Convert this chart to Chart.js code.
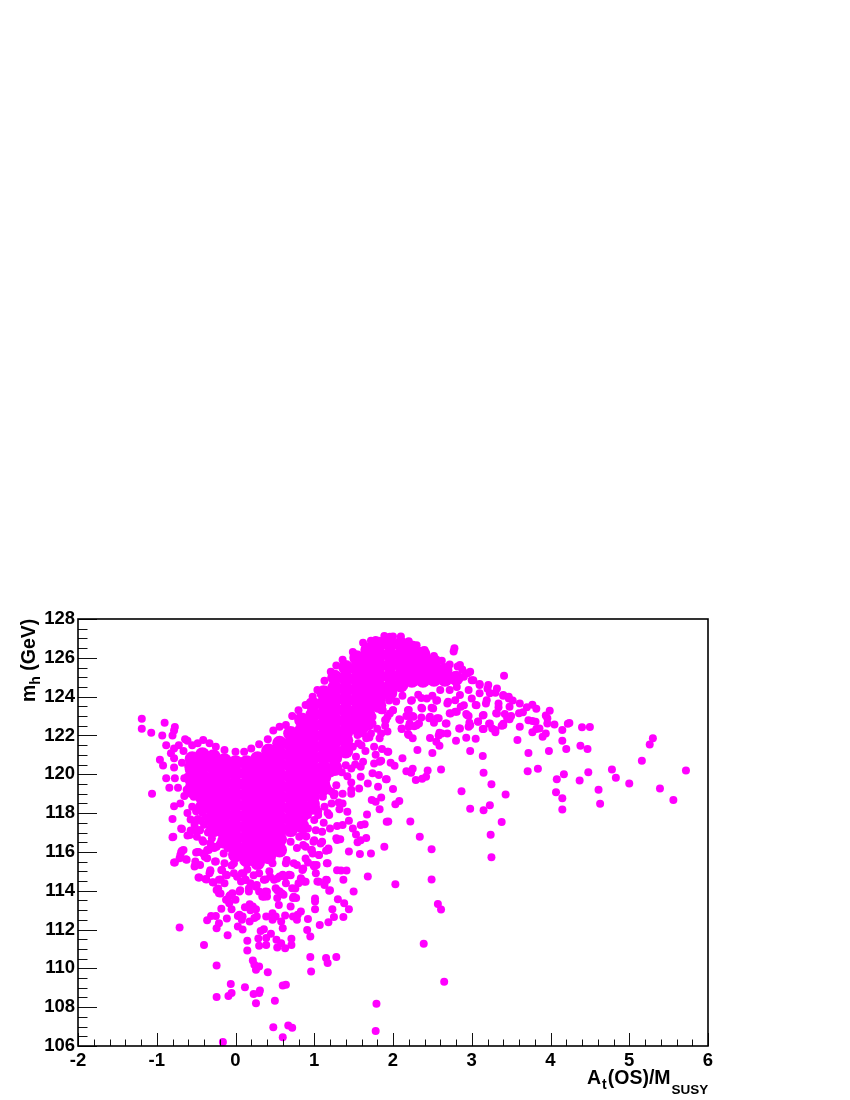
<!DOCTYPE html>
<html>
<head>
<meta charset="utf-8">
<script src="https://cdn.jsdelivr.net/npm/chart.js@4"></script>
<style>
html, body { margin: 0; padding: 0; background: #fff; }
canvas { display: block; }
</style>
</head>
<body>
<canvas id="plot" width="850" height="1100"></canvas>
<script>
const xTitleParts = [["A", 0], ["t", 1], ["(OS)/M", 0], ["SUSY", 2]];
const yTitleParts = [["m", 0], ["h", 1], [" (GeV)", 0]];

// points, [At/Msusy, mh]
const leftPoints = [
[-1.19,122.86],[-1.19,122.35],[-.90,122.66],[-1.07,122.14],[-.77,122.43],[-.78,122.25],[-.93,122],[-.80,122],[-.88,121.5],
[-.96,120.75],[-.92,120.45],[-.88,119.8],[-.77,119.8],[-.84,119.3],[-1.06,119],[-.73,119.3],[-.78,118.35],[-.70,118.5],
[-.80,117.7],[-.69,117.2],[-.80,116.75],[-.61,116.85],[-.57,117.1],[-.47,117.1],[-.64,121.8],[-.61,121.73],[-.72,121.5],
[-.78,121.33],[-.82,121.08],[-.78,120.82],[-.78,120.35],[-.41,121.76],[-.48,121.6],[-.55,121.5],[-.33,121.6],[-.25,121.42],
[-.14,121.25],[0,121.16],[.11,121.16],[.2,121.33],[.3,121.55],[.41,121.8],[.48,122.25],[.56,122.45],[.64,122.54],[.72,123],
[.8,123.3],[.89,123.57],[.98,124],[1.04,124.34],[1.13,124.82],[1.21,125.28],[1.28,125.6],[1.36,125.9],[1.49,126.3],[1.62,126.78],
[1.72,126.88],[1.89,127.12],[1.78,126.92],[-.61,119.87],[-.65,119.8],[-.59,119.36],[-.65,118.88],[-.55,118.33],[-.61,118],
[-.57,117.67],[-.46,117.12],[-.38,117.8],[-.42,116.6],[-.48,116],[-.68,116.06],[-.36,116.1],[-.27,116.2],[-.25,117.3],
[-.33,118.15],[-.42,118.67],[-.53,118.84],[-.68,120.6],[-.66,121.2],[-.6,120.4],[-.62,119.2],[-.5,118.1],[-.52,117.4],[-.44,117.6],
[-.4,117.4],[-.35,117],[-.3,116.7],[-.2,116.4],[-.1,116.2],[-.48,117.7],[-.2,117],[-.3,116.3],[-.12,116.7],[-.05,116.4],[-.42,118],[-.34,117.6]
];

const rightOfBlob = [
[1.93,121.16],[1.83,120.65],[1.76,120.56],[1.82,119.96],[1.74,120.05],[1.91,119.74],[1.81,119.36],[1.73,118.67],[1.85,118.8],
[1.78,118.58],[1.83,118.2],[1.67,117.93],[1.57,119.27],[1.47,119.58],[1.47,119.2],[1.47,119],[1.36,119],[1.31,118.55],[1.36,118.5],
[1.32,118.2],[1.42,118.07],[1.44,117.6],[1.64,117.43],[1.59,117.38],[1.49,117.2],[1.53,116.9],[1.66,116.72],[1.59,116.6],[1.55,116.5],
[1.29,117.33],[1.36,117.38],[1.28,116.7],[1.33,116.65],[1.44,116.02],[1.58,115.89],[1.72,115.92],[1.89,116.26],[1.92,117.55],[1.18,116.18],
[1.15,116.06],[1.06,115.84],[.98,115.92],[.96,116.1],[1.08,116.43],[1.1,117.04],[1.19,117.9],[1.13,118.33],[1,117.64],[1.02,117.12],
[.92,117.2],[.81,116.78],[.89,116.27],[.7,116.52],[1.4,120.47],[1.47,120.3],[1.59,119.87],[1.68,119.53],[1.59,120.39],[1.62,120.65],
[1.53,120.9],[1.78,121],[1.76,121.42],[1.66,121.85],[1.83,121.85],[1.85,123.3],[1.93,122.97],[1.74,122.62],[1.64,122.36],[1.44,122.1],
[1.49,122.45],[1.55,122.02],[1.74,122.97],[1.64,122.8],[1.4,121.6],[1.38,121.25],[1.49,121.42],[1.3,120.4],[1.21,120.05],[1.15,119.53],
[1.28,119.44],[1.11,119.27],[1.17,118],[1.02,118.5],[1.11,118.84],[1.25,118.9],[1.22,119.1],[1.05,118.1],[.92,117.9],[.86,116.9],[.78,116.2],
[1.91,122.8],[1.87,123.3],[1.93,122.2],[1.85,122.1],[1.95,123.8],[1.8,123.6],[1.7,123.4],[1.6,122.9],[1.56,121.6],[1.7,121.9],[1.86,121.3],
[1.05,117.9],[1.12,117.5],[1.2,117.2],[1,118.2],[.95,118.4],[.85,117.5],[.9,116.8],[1,116.6],[1.22,118.5],[1.26,119],[1.18,119.2],
[1.35,120.1],[1.42,119.9],[1.52,120.5],[1.65,121.2],[1.6,121.5],[1.72,122.1],[1.9,122.5],[1.8,122.35],[1.62,122.1]
];

const lowerPoints = [
[-.78,115.45],[-.63,115.62],[-.71,115.67],[-.69,116],[-.51,115.5],[-.52,115.25],[-.45,115.33],[-.5,115.97],[-.47,114.68],[-.38,114.6],
[-.33,114.9],[-.36,115.67],[-.25,115.5],[-.29,114.44],[-.21,114.56],[-.14,114.39],[-.12,114.82],[-.18,115.07],[-.14,115.42],[-.24,114.04],
[-.21,113.87],[-.12,113.53],[-.08,113.7],[-.04,113.87],[-.08,113.36],[-.05,113.05],[-.18,113.07],[0,113.53],[.05,113.96],[.07,114.47],
[.08,114.9],[.13,114.56],[.19,114.39],[.26,114.2],[.17,113.96],[.3,113.96],[.38,113.96],[.34,113.7],[.4,113.7],[.36,114.56],[.43,115],
[.49,114.56],[.56,114.73],[.6,114.82],[.68,114.82],[.64,114.39],[.72,114.13],[.8,114.39],[.87,114.47],[.83,114.64],[.51,114.13],[.56,113.96],
[.61,113.79],[.53,113.62],[.55,113.27],[.73,113.62],[.77,113.62],[.7,113.19],[.83,112.93],[.79,112.76],[.73,112.67],[.78,112.5],[.92,112.54],
[.63,112.72],[.58,112.42],[.6,112.07],[.47,112.84],[.51,112.67],[.39,112.67],[.47,112.5],[.27,112.67],[.26,113.05],[.19,113],[.22,113.19],
[.18,113.3],[.12,113.15],[.05,112.76],[.09,112.67],[.03,112.7],[.08,112.5],[.18,112.42],[.24,112.6],[-.11,112.57],[-.36,112.48],[-.31,112.7],
[-.25,112.7],[-.21,112.33],[-.24,112.07],[-.71,112.1],[.03,112.16],[.09,112],[-.1,111.71],[-.4,111.21],[.32,111.93],[.36,112.02],[.45,111.78],
[.39,111.56],[.29,111.54],[.15,111.42],[.52,111.47],[.58,111.3],[.53,111.08],[.63,111.03],[.71,111.52],[.71,111.21],[.39,111.21],[.3,111.16],
[.15,110.92],[.91,111.98],[.95,111.64],[1.07,112.24],[1.18,112.38],[1.25,112.64],[1.37,112.64],[1.44,113.05],[1.23,113.05],[1.38,113.36],
[1.3,113.56],[1.01,113.05],[1.01,113.44],[1.5,113.96],[1.19,114],[1.13,114.3],[1.04,114.47],[1.15,114.56],[1.37,114.56],[1.34,115.04],
[1.41,115.04],[1.68,114.73],[1.16,115.42],[1.03,115.33],[1.02,114.9],[1,115.25],[.92,115.45],[.85,115.07],[.78,115.33],[.64,115.42],
[.47,115.42],[.3,115.42],[-.02,114.9],[-.05,115.3],[.15,115.1],[.3,114.9],[.95,110.58],[1.15,110.53],[1.17,110.27],[1.28,110.58],[.96,109.84],
[.22,110.4],[.24,110.18],[.3,110.1],[.26,109.93],[.41,109.8],[-.24,110.15],[-.06,109.2],[.12,109.03],[-.05,108.73],[-.09,108.58],[-.24,108.52],
[.31,108.86],[.3,108.73],[.23,108.68],[.26,108.2],[.5,108.33],[.6,109.12],[.64,109.16],[.48,106.97],[.67,107.06],[.72,106.94],[.6,106.45],
[-.16,106.2],[1.79,108.18],[1.78,106.77],[2.03,114.34],[2.49,114.58],[2.57,113.32],[2.61,113.03],[2.39,111.27],[2.65,109.31],
[-.68,117.18],[-.79,116.78],[-.58,116.87],[-.53,117.12],[-.45,117.12],[-.41,116.52],[-.47,116],[-.66,116.1],[-.70,115.84],[-.77,115.46],
[-.62,115.6],[-.51,115.32],[-.39,115.75],[-.34,116.1],[-.26,115.5],[-.32,115.06],[-.17,115.06],[-.46,114.68],[-.37,114.58],[-.32,115],
[-.28,114.43],[-.19,114.58],[-.11,114.8],[-.22,114.12],[-.19,113.86],[-.07,113.77],[.06,114.03],[.17,114.12],[.12,114.55],[.1,114.89],
[.27,114.29],[.38,114.58],[.4,113.95],[.53,114.03],[.59,113.86],[.53,114.63],[.63,114.72],[.7,114.8],[.76,114.12],[.84,114.55],[.89,114.46],
[.86,115.15],[.99,115.32],[1.06,114.46],[1.16,114.55],[1.2,114.03],[1.01,113.6],[.74,113.69],[.36,113.69],[1.17,115.41],[1.29,115.06],
[.97,116.1],[1.06,115.84],[1.18,116.1],[1.29,116.61],[1.1,116.52],[.99,116.52],[.86,116.35],[.89,115.66],[.74,115.41],[.65,115.58],
[.44,114.72],[.23,114.8],[.02,114.72],[-.02,115.41],[-.15,115.92],[-.24,116.27],[-.32,116.44],[-.41,115.92],[-.49,116.78]
];

const rightPoints = [
[5.72,120.2],[5.30,121.85],[5.26,121.54],[5.16,120.7],[5.39,119.27],[5.56,118.67],[5,119.53],[4.83,119.82],[4.78,120.25],[4.61,119.2],
[4.63,118.48],[4.48,120.1],[4.37,119.68],[4.17,120],[4.08,119.74],[4.07,119.07],[4.15,118.77],[4.15,118.18],[4.50,122.43],[4.40,122.42],
[4.24,122.64],[4.22,122.6],[4.15,122.28],[4.15,121.73],[4.20,121.3],[4.38,121.47],[4.47,121.3],[3.98,121.2],[3.72,121.1],[3.71,120.16],
[3.84,120.28],[3.58,121.76],[3.61,122.45],[3.77,122.17],[3.82,122.33],[3.86,122.36],[3.94,122.1],[3.90,121.93],[3.96,122.62],[4.05,122.57],
[3.99,123.27],[3.94,123.03],[3.96,122.88],[3.72,122.78],[3.77,122.74],[3.81,122.7],[3.14,120.94],[2.98,121.2],[3.15,120.08],[3.25,119.48],
[3.43,118.96],[3.23,118.4],[3.15,118.14],[2.98,118.22],[2.87,119.12],[3.38,117.54],[3.24,116.88],[3.25,115.73],[2.49,116.14],[2.34,116.78],
[2.22,117.57],[1.94,117.57],[2.61,120.25],[2.44,120.2],[2.42,119.87],[2.37,119.77],[2.29,119.7],[2.25,120.28],[2.23,120.08],[2.17,120.15],
[2.12,120.82],[2.02,120.44],[1.97,120.6],[1.94,121.16],[1.85,120.7],[2.31,121.25],[2.5,121.1],[2.59,121.47],[2.55,121.68],[2.47,121.87],
[2.25,121.85],[2.19,122.07],[2.11,122.33],[2.80,121.73],[2.69,122.1],[2.59,122.14],[2.58,122],[2.93,121.88],[3.05,121.83],[2.84,122.36],
[3.14,122.33],[3.08,122.72],[2.96,122.45],[2.97,122.66],[3.14,123.03],[3.26,122.36],[3.30,122.17],[3.22,122.6],[3.38,122.5],[3.40,122.6],
[3.48,122.83],[3.5,123],[3.42,123.1],[3.31,123.14],[3.34,123.45],[3.6,123.14],[3.65,123.2],[3.7,123.45],[3.77,123.58],[3.82,123.38],[3.61,123.64],
[3.41,125.08],[2.78,126.49],[2.77,126.32],[2,119.24],[1.92,119.75],[2.08,118.62],[2.03,118.45],[2.67,122.62],[2.52,122.66],[2.56,122.88],
[2.46,122.88],[2.36,122.93],[2.33,122.62],[2.27,122.48],[2.21,122.62],[2.08,122.83],[2.25,123],[2.17,123],[2.72,123.14],[2.79,123.22],[2.93,123.1],
[2.96,123],[2,123.3],[2.19,123.3],[2.36,123.43],[2.49,123.43],[2.23,123.79],[2.36,123.93],[2.55,123.79],[2.69,123.65],[2.86,123.48],[3.05,123.57],
[3.18,123.65],[3.48,123.48],[3.52,123.8],[3.4,124.05],[3.47,124],[3.3,124.2],[3.2,124.4],[3.1,124.65],[3.0,124.85],[2.95,125.2],[2.88,125.4],
[2.82,125.55],[2.72,125.65],[2.62,125.85],[2.52,126.1],[2.4,126.4],[2.3,126.65],[2.2,126.85],[2.1,127.1],[2.0,127.1],[1.96,127.08],
[1.86,123.31],[1.96,123.13],[1.9,122.79],[2,123.3],[2.09,122.79],[2.2,123.31],[2.24,123.82],[2.22,122.96],[2.26,122.96],[2.2,122.45],[2.3,122.53],
[2.37,123.39],[2.43,123.91],[2.56,123.82],[2.51,123.39],[2.47,122.96],[2.58,122.88],[2.68,122.62],[2.73,123.13],[2.81,123.22],[2.79,123.82],
[2.7,123.74],[2.9,123.56],[3.06,123.56],[2.94,123.05],[3.15,123.05],[3.08,122.7],[2.98,122.53],[2.11,122.36],[2.2,122.02],[2.62,122.1],[2.85,122.36],
[3.15,122.33],[3.23,122.62],[3.4,122.53],[3.32,123.13],[3.45,122.88],[3.3,122.28],[2.85,125.63],[2.98,125.28],[3.02,124.85],[2.9,125.02],[2.81,124.5],
[3.1,124.6],[3.21,124.6],[3.23,124.17],[3.32,124.42],[3.4,124.08],[3.47,123.9],[3.1,124.17],[2.96,124.34],[2.85,124.08],[2.72,124.34],[2.6,124.34],
[3,123.91],[3.19,123.82],[3.34,123.65],[2.04,123.75],[2.12,124.05],[2.32,124.1],[2.5,124.05]
];

// solid interior, too dense to pick out single dots: estimated spots, drawn with a bigger marker
const solidCore = [
[-.55,120.8],[-.55,120.25],[-.55,119.7],[-.55,119.15],
[-.42,121],[-.42,120.45],[-.42,119.9],[-.42,119.35],[-.42,118.8],[-.42,118.3],
[-.28,120.9],[-.28,120.35],[-.28,119.8],[-.28,119.25],[-.28,118.7],[-.28,118.15],[-.28,117.6],[-.28,117.15],
[-.14,120.7],[-.14,120.15],[-.14,119.6],[-.14,119.05],[-.14,118.5],[-.14,117.95],[-.14,117.4],[-.14,117],[-.14,116.55],
[0,120.6],[0,120.05],[0,119.5],[0,118.95],[0,118.4],[0,117.85],[0,117.3],[0,116.75],[0,116.25],[0,115.85],
[.14,120.6],[.14,120.05],[.14,119.5],[.14,118.95],[.14,118.4],[.14,117.85],[.14,117.3],[.14,116.75],[.14,116.2],[.14,115.6],
[.28,120.8],[.28,120.25],[.28,119.7],[.28,119.15],[.28,118.6],[.28,118.05],[.28,117.5],[.28,116.95],[.28,116.4],[.28,115.85],[.28,115.45],
[.42,121.2],[.42,120.65],[.42,120.1],[.42,119.55],[.42,119],[.42,118.45],[.42,117.9],[.42,117.35],[.42,116.8],[.42,116.25],[.42,115.75],
[.56,121.6],[.56,121.05],[.56,120.5],[.56,119.95],[.56,119.4],[.56,118.85],[.56,118.3],[.56,117.75],[.56,117.2],[.56,116.65],[.56,116.1],
[.7,122.1],[.7,121.55],[.7,121],[.7,120.45],[.7,119.9],[.7,119.35],[.7,118.8],[.7,118.25],[.7,117.7],[.7,117.15],
[.84,122.8],[.84,122.25],[.84,121.7],[.84,121.15],[.84,120.6],[.84,120.05],[.84,119.5],[.84,118.95],[.84,118.4],[.84,117.85],[.84,117.35],
[.98,123.6],[.98,123.05],[.98,122.5],[.98,121.95],[.98,121.4],[.98,120.85],[.98,120.3],[.98,119.75],[.98,119.2],[.98,118.85],[.98,118.3],
[1.12,124.2],[1.12,123.65],[1.12,123.1],[1.12,122.55],[1.12,122],[1.12,121.45],[1.12,120.9],[1.12,120.35],[1.12,119.85],[1.12,119.3],
[1.26,125],[1.26,124.45],[1.26,123.9],[1.26,123.35],[1.26,122.8],[1.26,122.25],[1.26,121.7],[1.26,121.15],[1.26,120.85],[1.26,120.3],
[1.4,125.5],[1.4,124.95],[1.4,124.4],[1.4,123.85],[1.4,123.3],[1.4,122.75],[1.4,122.2],[1.4,121.75],[1.4,121.2],
[1.54,126],[1.54,125.45],[1.54,124.9],[1.54,124.35],[1.54,123.8],[1.54,123.25],[1.54,122.85],[1.54,122.4],
[1.68,126.4],[1.68,125.85],[1.68,125.3],[1.68,124.75],[1.68,124.2],[1.68,123.65],[1.68,123.1],[1.68,122.65],
[1.82,126.7],[1.82,126.15],[1.82,125.6],[1.82,125.05],[1.82,124.5],[1.82,124],[1.82,123.55],
[1.96,126.7],[1.96,126.15],[1.96,125.6],[1.96,125.05],[1.96,124.5],[1.96,124.2],
[2.1,126.7],[2.1,126.15],[2.1,125.65],[2.1,125.1],[2.1,124.6],
[2.24,126.5],[2.24,125.95],[2.24,125.4],[2.24,124.85],
[2.38,126.2],[2.38,125.7],[2.38,125.2],[2.38,124.85],
[2.52,125.8],[2.52,125.3],[2.52,124.9],
[2.66,125.35],[2.66,124.9],
[2.8,124.95]
];

const dotColor = "#ff00ff";
const fontFamily = "'Liberation Sans', Arial, sans-serif";

function toXY(list) {
    return list.map(p => ({ x: p[0], y: p[1] }));
}

function isWhole(v) {
    return Math.abs(v - Math.round(v)) < 1e-6;
}

// ROOT style axes: ticks inside the frame, left and bottom only
const frameAndTicks = {
    id: "frameAndTicks",
    afterDatasetsDraw(chart) {
        const ctx = chart.ctx;
        const area = chart.chartArea;
        const xs = chart.scales.x;
        const ys = chart.scales.y;
        ctx.save();
        ctx.strokeStyle = "#111";
        ctx.lineWidth = 1;
        xs.ticks.forEach(t => {
            const px = Math.round(xs.getPixelForValue(t.value)) + 0.5;
            const len = isWhole(t.value) ? 13 : 6.5;
            ctx.beginPath();
            ctx.moveTo(px, area.bottom);
            ctx.lineTo(px, area.bottom - len);
            ctx.stroke();
        });
        ys.ticks.forEach(t => {
            const py = Math.round(ys.getPixelForValue(t.value)) + 0.5;
            const len = (isWhole(t.value) && Math.round(t.value) % 2 == 0) ? 19 : 9.5;
            ctx.beginPath();
            ctx.moveTo(area.left, py);
            ctx.lineTo(area.left + len, py);
            ctx.stroke();
        });
        ctx.lineWidth = 1.6;
        ctx.strokeStyle = "#000";
        ctx.strokeRect(area.left, area.top, area.right - area.left, area.bottom - area.top);
        ctx.restore();
    },
    afterDraw(chart) {
        const ctx = chart.ctx;
        ctx.save();
        ctx.fillStyle = "#000";
        ctx.textBaseline = "alphabetic";
        ctx.textAlign = "left";
        // x title, subscripts have to be placed by hand
        let px = 587;
        xTitleParts.forEach(part => {
            const size = part[1] == 2 ? 13.5 : (part[1] == 1 ? 14 : 19.5);
            const base = part[1] == 2 ? 1094 : (part[1] == 1 ? 1089 : 1084);
            ctx.font = "bold " + size + "px " + fontFamily;
            ctx.fillText(part[0], px, base);
            px += ctx.measureText(part[0]).width + 1;
        });
        // y title, rotated
        ctx.translate(35, 702);
        ctx.rotate(-Math.PI / 2);
        px = 0;
        yTitleParts.forEach(part => {
            const size = part[1] == 1 ? 14 : 19.5;
            const base = part[1] == 1 ? 5 : 0;
            ctx.font = "bold " + size + "px " + fontFamily;
            ctx.fillText(part[0], px, base);
            px += ctx.measureText(part[0]).width;
        });
        ctx.restore();
    }
};

function smallDots(list) {
    return { data: toXY(list), pointRadius: 4, backgroundColor: dotColor, pointBorderWidth: 0 };
}

const config = {
    type: "scatter",
    data: {
        datasets: [
            { data: toXY(solidCore), pointRadius: 7.5, backgroundColor: dotColor, pointBorderWidth: 0 },
            smallDots(leftPoints),
            smallDots(rightOfBlob),
            smallDots(lowerPoints),
            smallDots(rightPoints)
        ]
    },
    options: {
        responsive: false,
        animation: false,
        layout: { padding: { top: 619, right: 142, left: 0, bottom: 0 } },
        plugins: { legend: { display: false }, tooltip: { enabled: false } },
        scales: {
            x: {
                type: "linear",
                min: -2,
                max: 6,
                afterFit(scale) { scale.height = 54; },
                grid: { display: false },
                border: { display: false },
                ticks: {
                    stepSize: 0.2,
                    autoSkip: false,
                    maxRotation: 0,
                    padding: -4,
                    color: "#000",
                    font: { family: fontFamily, weight: "bold", size: 18.5 },
                    callback: v => isWhole(v) ? String(Math.round(v)) : ""
                }
            },
            y: {
                type: "linear",
                min: 106,
                max: 128,
                afterFit(scale) { scale.width = 78; },
                grid: { display: false },
                border: { display: false },
                ticks: {
                    stepSize: 0.5,
                    autoSkip: false,
                    padding: -5,
                    color: "#000",
                    font: { family: fontFamily, weight: "bold", size: 18.5 },
                    callback: v => (isWhole(v) && Math.round(v) % 2 == 0) ? String(Math.round(v)) : ""
                }
            }
        }
    },
    plugins: [frameAndTicks]
};

new Chart(document.getElementById("plot"), config);
</script>
</body>
</html>
